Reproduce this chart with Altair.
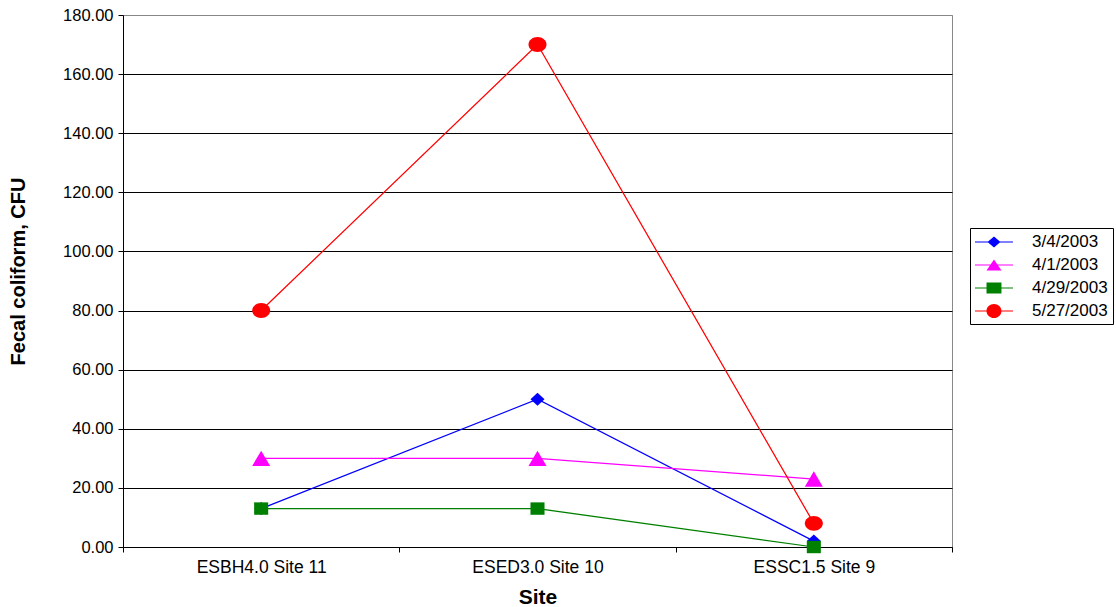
import altair as alt
import pandas as pd

# Sampling sites along the x axis
sites = ["ESBH4.0 Site 11", "ESED3.0 Site 10", "ESSC1.5 Site 9"]

# Sampling dates (one line per date)
dates = ["3/4/2003", "4/1/2003", "4/29/2003", "5/27/2003"]

# Fecal coliform counts (CFU) per date, in site order
cfu_0304 = [13.0, 50.0, 2.0]
cfu_0401 = [30.0, 30.0, 23.0]
cfu_0429 = [13.0, 13.0, 0.0]
cfu_0527 = [80.0, 170.0, 8.0]

series = [cfu_0304, cfu_0401, cfu_0429, cfu_0527]

colors = ["#0000FF", "#FF00FF", "#008000", "#FF0000"]

# Marker outlines (unit square -1..1, drawn at size 324 -> 18 px)
marker_paths = [
    "M0,-0.72L0.78,0L0,0.72L-0.78,0Z",            # diamond
    "M0,-0.85L1,0.85L-1,0.85Z",                    # triangle
    "M-0.78,-0.69H0.78V0.69H-0.78Z",               # square
    "M-1,0A1,0.83,0,1,1,1,0A1,0.83,0,1,1,-1,0Z",   # ellipse
]

# Legend keys: short line segment with the marker on it (unit = 9 px)
LINE = "M-1,-0.06H3.22V0.06H-1Z"
legend_paths = [
    LINE + "M1.11,-0.61L1.83,0L1.11,0.61L0.39,0Z",
    LINE + "M1.11,-0.61L1.94,0.61L0.28,0.61Z",
    LINE + "M0.28,-0.61H1.94V0.61H0.28Z",
    LINE + "M0.28,0A0.83,0.78,0,1,1,1.94,0A0.83,0.78,0,1,1,0.28,0Z",
]

rows = []
for d, vals in zip(dates, series):
    for s, v in zip(sites, vals):
        rows.append({"Site": s, "Date": d, "CFU": v})
df = pd.DataFrame(rows)

FONT = "Liberation Sans"

legend = alt.Legend(
    title=None,
    orient="none",
    legendX=847,
    legendY=213,
    strokeColor="#000000",
    fillColor="#FFFFFF",
    padding=5,
    symbolSize=324,
    symbolOpacity=1,
    symbolStrokeWidth=0,
    rowPadding=6,
    labelOffset=39,
    labelFont=FONT,
    labelFontSize=17,
    labelColor="#000000",
)

x_enc = alt.X(
    "Site:N",
    sort=sites,
    bandPosition=0.5,
    scale=alt.Scale(type="band", domain=sites, paddingInner=0, paddingOuter=0),
    axis=alt.Axis(
        title="Site",
        titleFont=FONT,
        titleFontSize=21,
        titleFontWeight="bold",
        titleColor="#000000",
        titleY=56,
        titleBaseline="alphabetic",
        labelFont=FONT,
        labelFontSize=17.5,
        labelColor="#000000",
        labelPadding=6,
        labelAngle=0,
        tickBand="extent",
        tickSize=5,
        tickColor="#000000",
        domainColor="#000000",
        grid=False,
    ),
)

y_enc = alt.Y(
    "CFU:Q",
    scale=alt.Scale(domain=[0, 180], nice=False, zero=True),
    axis=alt.Axis(
        title="Fecal coliform, CFU",
        titleFont=FONT,
        titleFontSize=20,
        titleFontWeight="bold",
        titleColor="#000000",
        titleX=-105,
        titleY=256,
        titleAngle=270,
        titleBaseline="middle",
        titleAlign="center",
        values=[0, 20, 40, 60, 80, 100, 120, 140, 160, 180],
        format=".2f",
        labelFont=FONT,
        labelFontSize=16.5,
        labelColor="#000000",
        labelPadding=5,
        tickSize=5,
        tickColor="#000000",
        domainColor="#000000",
        grid=True,
        gridColor={"condition": {"test": "datum.value === 180", "value": "#888888"}, "value": "#000000"},
        gridWidth=1,
    ),
)

color_scale = alt.Scale(domain=dates, range=colors)

lines = alt.Chart(df).mark_line(strokeWidth=1.25).encode(
    x=x_enc,
    y=y_enc,
    color=alt.Color("Date:N", sort=dates, scale=color_scale, legend=None),
    detail="Date:N",
)

points = alt.Chart(df).mark_point(filled=True, opacity=1, size=324, strokeWidth=0).encode(
    x=x_enc,
    y=y_enc,
    color=alt.Color("Date:N", sort=dates, scale=color_scale, legend=None),
    shape=alt.Shape(
        "Date:N",
        sort=dates,
        scale=alt.Scale(domain=dates, range=marker_paths),
        legend=None,
    ),
)

# Transparent layer that only carries the legend keys (line + marker)
keys = alt.Chart(df).mark_point(filled=True, opacity=0, size=324, strokeWidth=0).encode(
    x=x_enc,
    y=y_enc,
    color=alt.Color("Date:N", sort=dates, scale=color_scale, legend=legend),
    shape=alt.Shape(
        "Date:N",
        sort=dates,
        scale=alt.Scale(domain=dates, range=legend_paths),
        legend=legend,
    ),
)

chart = (
    alt.layer(lines, points, keys)
    .resolve_scale(shape="independent", color="independent")
    .properties(
        width=829,
        height=532,
        autosize=alt.AutoSizeParams(type="none"),
        padding={"left": 123, "top": 15, "right": 164, "bottom": 60},
        background="#FFFFFF",
    )
    .configure_view(stroke="#888888", strokeWidth=1)
)

chart.save("out.html", embed_options={"renderer": "svg", "actions": False})
